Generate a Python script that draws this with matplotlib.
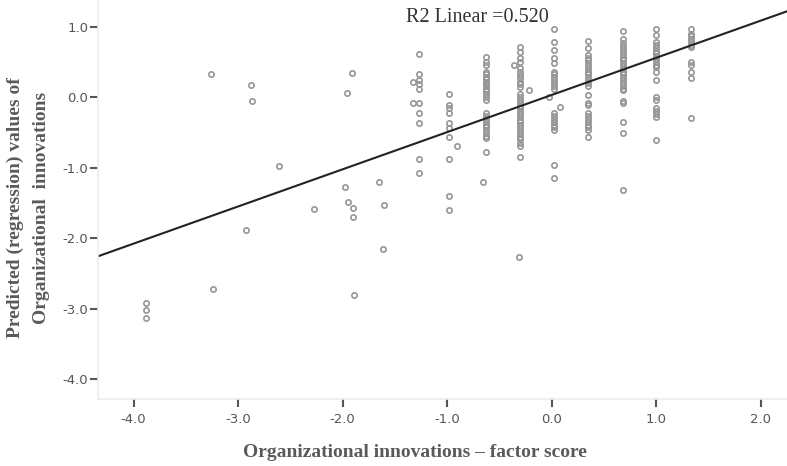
import numpy as np
import matplotlib.pyplot as plt

# scattered points on the left / outliers
out_x = [-3.26, -2.88, -2.87, -1.91, -1.96, -2.61, -1.98, -1.65, -2.27, -1.95, -1.90, -1.90,
         -1.60, -2.92, -1.61, -3.24, -1.89, -3.88, -3.88, -3.88,
         -1.33, -1.33, -0.91, -0.66, -0.36, -0.22, -0.03, 0.08, -0.31]
out_y = [0.32, 0.17, -0.05, 0.34, 0.06, -0.98, -1.27, -1.21, -1.58, -1.49, -1.57, -1.70,
         -1.53, -1.89, -2.16, -2.72, -2.81, -2.92, -3.02, -3.13,
         0.22, -0.08, -0.70, -1.21, 0.45, 0.10, 0.0, -0.14, -2.27]

# vertical columns of points (x position, y values)
col_x = [-1.27, -0.98, -0.63, -0.30, 0.02, 0.35, 0.68, 1.00, 1.33]
col_y = [
    [0.61, 0.33, 0.24, 0.18, 0.11, -0.08, -0.23, -0.37, -0.88, -1.08],
    [0.05, -0.11, -0.15, -0.22, -0.37, -0.44, -0.56, -0.88, -1.40, -1.60],
    [0.57, 0.50, 0.45, 0.36, 0.32, 0.28, 0.25, 0.22, 0.19, 0.15, 0.12, 0.08, 0.04, 0.0,
     -0.04, -0.23, -0.27, -0.31, -0.35, -0.39, -0.43, -0.47, -0.51, -0.55, -0.58, -0.78],
    [0.71, 0.64, 0.55, 0.50, 0.41, 0.36, 0.31, 0.27, 0.22, 0.18, 0.14, 0.05, 0.0,
     -0.04, -0.08, -0.12, -0.16, -0.20, -0.24, -0.28, -0.32, -0.36, -0.40, -0.44, -0.48,
     -0.52, -0.56, -0.60, -0.65, -0.70, -0.85],
    [0.97, 0.78, 0.67, 0.55, 0.48, 0.36, 0.32, 0.28, 0.24, 0.20, 0.16, 0.12,
     -0.23, -0.27, -0.31, -0.35, -0.39, -0.43, -0.47, -0.97, -1.15],
    [0.80, 0.69, 0.60, 0.56, 0.52, 0.48, 0.44, 0.40, 0.36, 0.32, 0.28, 0.24, 0.20, 0.15,
     0.03, -0.08, -0.11, -0.23, -0.27, -0.31, -0.35, -0.39, -0.43, -0.47, -0.56],
    [0.93, 0.83, 0.76, 0.72, 0.68, 0.64, 0.60, 0.56, 0.52, 0.48, 0.44, 0.40, 0.36, 0.32,
     0.28, 0.24, 0.20, 0.16, 0.12, 0.10, -0.05, -0.08, -0.35, -0.51, -1.32],
    [0.97, 0.88, 0.78, 0.74, 0.70, 0.66, 0.62, 0.58, 0.54, 0.50, 0.46, 0.43, 0.36, 0.24,
     0.0, -0.04, -0.16, -0.20, -0.24, -0.28, -0.61],
    [0.97, 0.90, 0.86, 0.82, 0.78, 0.74, 0.71, 0.50, 0.45, 0.36, 0.27, -0.30],
]

# fit line
slope = 0.527
intercept = 0.03
r2_text = "R2 Linear =0.520"

xticks = [-4.0, -3.0, -2.0, -1.0, 0.0, 1.0, 2.0]
yticks = [1.0, 0.0, -1.0, -2.0, -3.0, -4.0]

xs = list(out_x)
ys = list(out_y)
for cx, cy in zip(col_x, col_y):
    xs += [cx] * len(cy)
    ys += cy

fig = plt.figure(figsize=(7.87, 4.66), dpi=100)
ax = fig.add_axes([0.1245, 0.1438, 0.8755, 0.8562])

ax.plot(xs, ys, 'o', ms=3.8, mfc='none', mec='#959595', mew=1.2)

xl = np.array([-4.34, 2.25])
ax.plot(xl, intercept + slope * xl, color='#222222', lw=1.5)

ax.set_xlim(-4.34, 2.25)
ax.set_ylim(-4.28, 1.376)
ax.set_xticks(xticks)
ax.set_yticks(yticks)
ax.set_xticklabels([f"{t:.1f}" for t in xticks])
ax.set_yticklabels([f"{t:.1f}" for t in yticks])

for s in ['top', 'right']:
    ax.spines[s].set_visible(False)
for s in ['left', 'bottom']:
    ax.spines[s].set_color('#ececec')
    ax.spines[s].set_linewidth(1.2)

ax.tick_params(axis='y', length=6, width=1.5, color='#555555', pad=1,
               labelsize=9.5, labelcolor='#555555')
ax.tick_params(axis='x', length=6, width=1.5, color='#555555', pad=4,
               labelsize=9.5, labelcolor='#555555')

ax.text(-1.39, 1.13, r2_text, fontsize=14.5, family='Liberation Serif',
        color='#333333', ha='left', va='center')

fig.text(0.527, 0.028, "Organizational innovations – factor score", ha='center',
         va='center', fontsize=14, fontweight='bold', family='Liberation Serif',
         color='#5a5a5a')
fig.text(0.020, 0.554, "Predicted (regression) values of", rotation=90, ha='center',
         va='center', fontsize=14, fontweight='bold', family='Liberation Serif',
         color='#5a5a5a')
fig.text(0.053, 0.554, "Organizational  innovations", rotation=90, ha='center',
         va='center', fontsize=14, fontweight='bold', family='Liberation Serif',
         color='#5a5a5a')

fig.savefig('out.png', dpi=100)
